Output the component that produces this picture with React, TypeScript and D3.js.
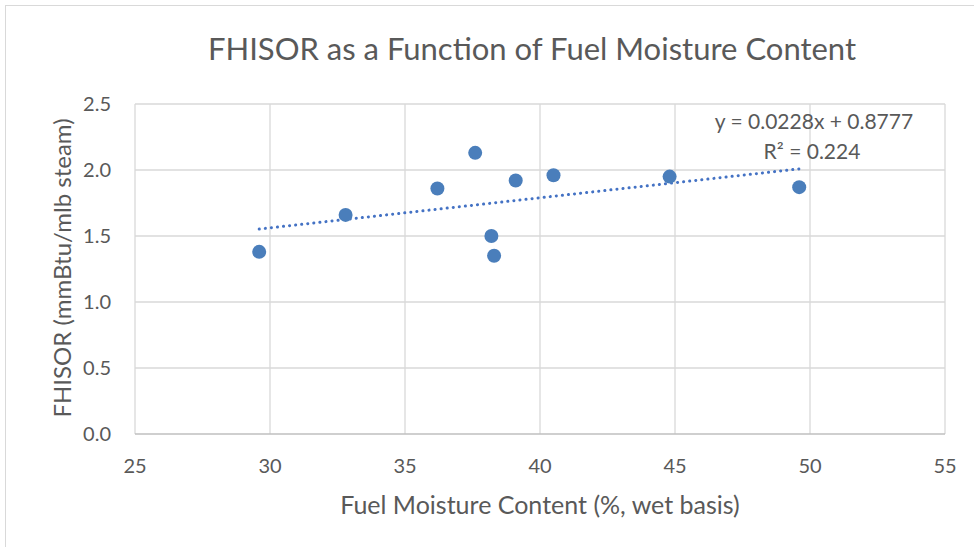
import React, { useEffect, useRef } from "react";
import * as d3 from "d3";

const moisture = [29.6, 32.8, 36.2, 37.6, 38.2, 38.3, 39.1, 40.5, 44.8, 49.6];
const fhisor = [1.38, 1.66, 1.86, 2.13, 1.5, 1.35, 1.92, 1.96, 1.95, 1.87];
const xTicks = [25, 30, 35, 40, 45, 50, 55];
const yTicks = [0, 0.5, 1.0, 1.5, 2.0, 2.5];
const slope = 0.0228;
const intercept = 0.8777;
const rSquared = 0.224;

const W = 974;
const H = 547;
const FONT = "Lato, 'Open Sans', sans-serif";

const App = () => {
  const ref = useRef<SVGSVGElement>(null);

  useEffect(() => {
    const svg = d3.select(ref.current);
    svg.selectAll("*").remove();

    const x = d3.scaleLinear().domain([25, 55]).range([135, 945]);
    const y = d3.scaleLinear().domain([0, 2.5]).range([434, 104]);

    // chart frame
    svg
      .append("rect")
      .attr("x", 5.5)
      .attr("y", 5.5)
      .attr("width", 1000)
      .attr("height", 1000)
      .attr("fill", "white")
      .attr("stroke", "#d9d9d9");

    svg
      .append("text")
      .attr("x", 532)
      .attr("y", 60)
      .attr("text-anchor", "middle")
      .attr("font-size", 31)
      .attr("fill", "#595959")
      .attr("font-family", FONT)
      .text("FHISOR as a Function of Fuel Moisture Content");

    // gridlines
    svg
      .append("g")
      .selectAll("line.h")
      .data(yTicks.slice(1))
      .enter()
      .append("line")
      .attr("x1", x(25))
      .attr("x2", x(55))
      .attr("y1", (d) => y(d))
      .attr("y2", (d) => y(d))
      .attr("stroke", "#d9d9d9")
      .attr("stroke-width", 1.3);

    svg
      .append("g")
      .selectAll("line.v")
      .data(xTicks)
      .enter()
      .append("line")
      .attr("x1", (d) => x(d))
      .attr("x2", (d) => x(d))
      .attr("y1", y(0))
      .attr("y2", y(2.5))
      .attr("stroke", "#d9d9d9")
      .attr("stroke-width", 1.3);

    svg
      .append("line")
      .attr("x1", x(25))
      .attr("x2", x(55))
      .attr("y1", y(0))
      .attr("y2", y(0))
      .attr("stroke", "#bfbfbf")
      .attr("stroke-width", 1.5);

    // tick labels
    svg
      .append("g")
      .selectAll("text")
      .data(yTicks)
      .enter()
      .append("text")
      .attr("x", 111)
      .attr("y", (d) => y(d) + 7)
      .attr("text-anchor", "end")
      .attr("font-size", 20)
      .attr("fill", "#595959")
      .attr("font-family", FONT)
      .text((d) => d3.format(".1f")(d));

    svg
      .append("g")
      .selectAll("text")
      .data(xTicks)
      .enter()
      .append("text")
      .attr("x", (d) => x(d))
      .attr("y", 473)
      .attr("text-anchor", "middle")
      .attr("font-size", 20)
      .attr("fill", "#595959")
      .attr("font-family", FONT)
      .text((d) => d);

    svg
      .append("text")
      .attr("x", 540)
      .attr("y", 514)
      .attr("text-anchor", "middle")
      .attr("font-size", 25)
      .attr("fill", "#595959")
      .attr("font-family", FONT)
      .text("Fuel Moisture Content (%, wet basis)");

    svg
      .append("text")
      .attr("transform", `translate(71,268) rotate(-90)`)
      .attr("text-anchor", "middle")
      .attr("font-size", 24)
      .attr("fill", "#595959")
      .attr("font-family", FONT)
      .text("FHISOR (mmBtu/mlb steam)");

    // trendline
    const [x0, x1] = d3.extent(moisture) as [number, number];
    svg
      .append("line")
      .attr("x1", x(x0))
      .attr("y1", y(slope * x0 + intercept))
      .attr("x2", x(x1))
      .attr("y2", y(slope * x1 + intercept))
      .attr("stroke", "#4472c4")
      .attr("stroke-width", 3)
      .attr("stroke-linecap", "round")
      .attr("stroke-dasharray", "0.1 6");

    // points
    svg
      .append("g")
      .selectAll("circle")
      .data(moisture)
      .enter()
      .append("circle")
      .attr("cx", (d) => x(d))
      .attr("cy", (_, i) => y(fhisor[i]))
      .attr("r", 7)
      .attr("fill", "#4a7ebb");

    svg
      .append("text")
      .attr("x", 814)
      .attr("y", 129)
      .attr("text-anchor", "middle")
      .attr("font-size", 21)
      .attr("fill", "#595959")
      .attr("font-family", FONT)
      .text(`y = ${slope}x + ${intercept}`);

    svg
      .append("text")
      .attr("x", 812)
      .attr("y", 159)
      .attr("text-anchor", "middle")
      .attr("font-size", 21)
      .attr("fill", "#595959")
      .attr("font-family", FONT)
      .text(`R² = ${rSquared}`);
  }, []);

  return (
    <svg
      ref={ref}
      width={W}
      height={H}
      style={{ position: "absolute", left: 0, top: 0, background: "white" }}
    />
  );
};

export default App;
